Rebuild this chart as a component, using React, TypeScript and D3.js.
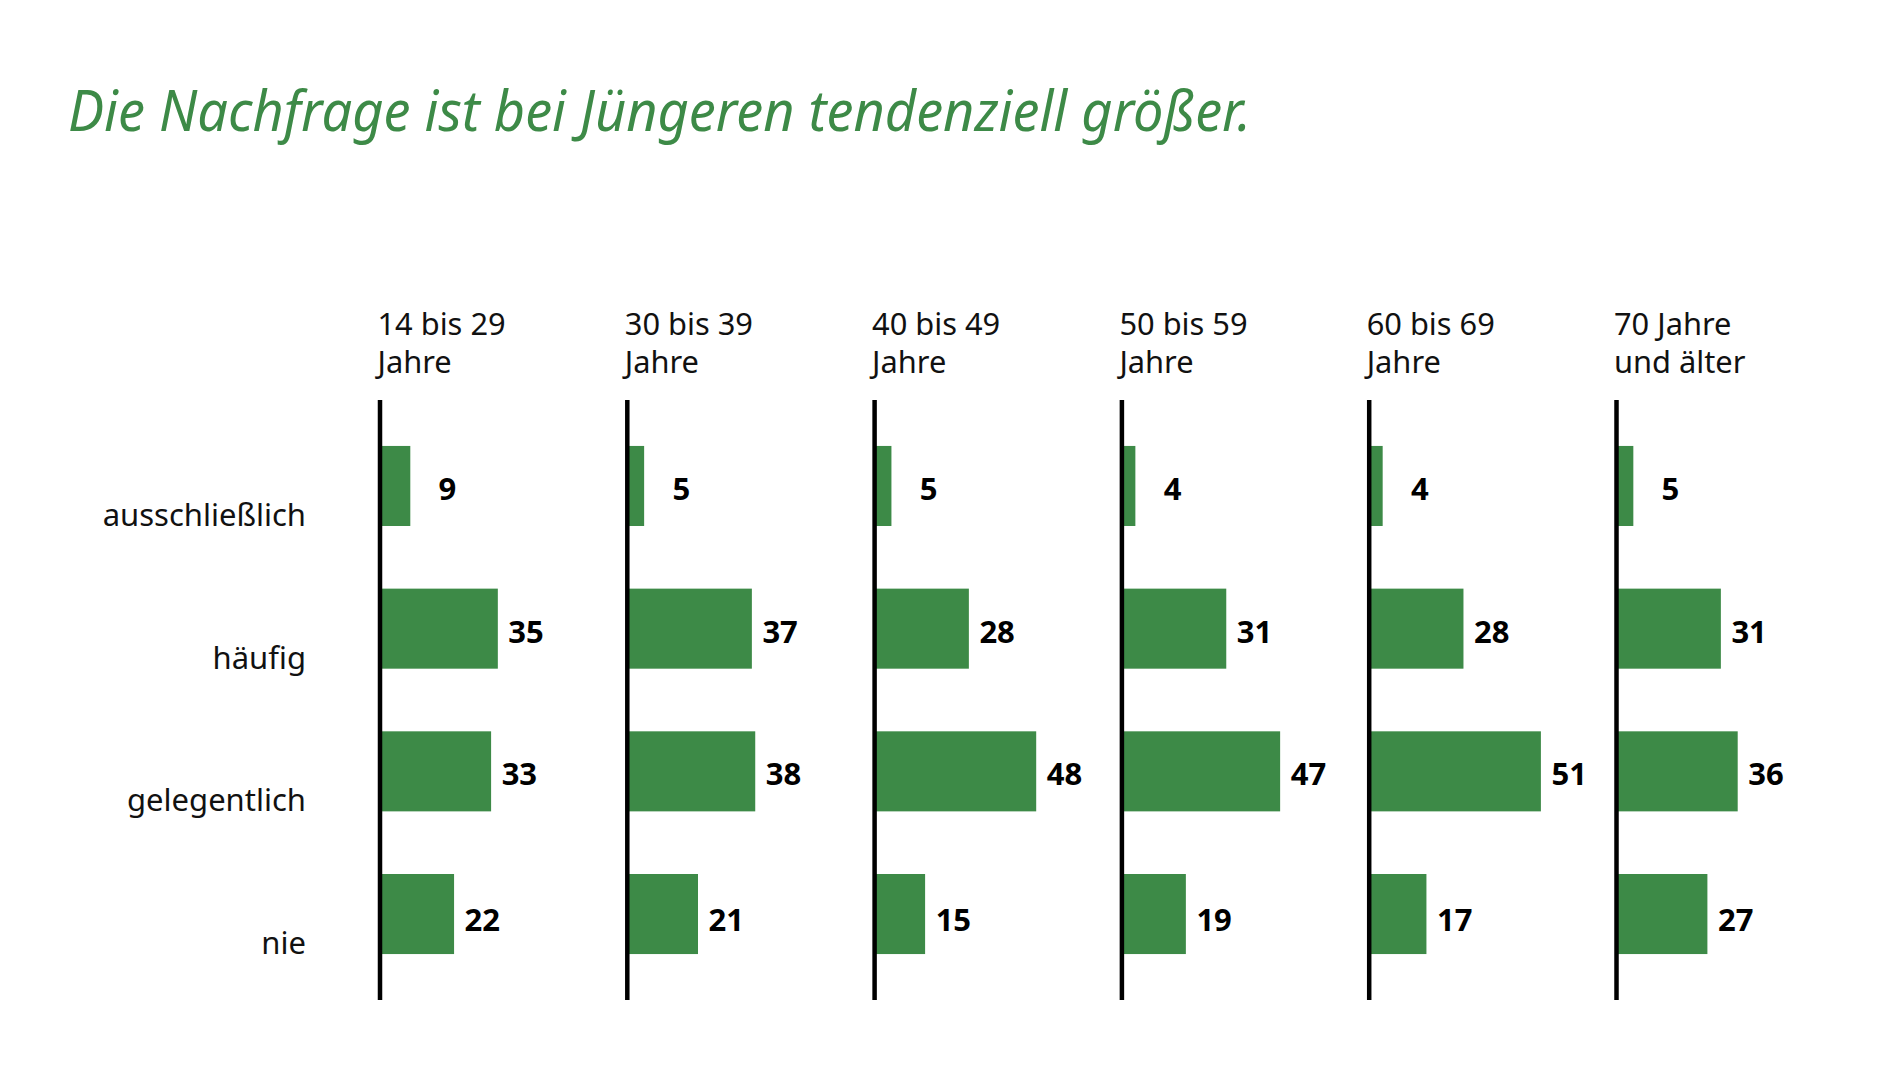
import React from "react";
import * as d3 from "d3";

const title = "Die Nachfrage ist bei Jüngeren tendenziell größer.";
const groups = [
  ["14 bis 29", "Jahre"],
  ["30 bis 39", "Jahre"],
  ["40 bis 49", "Jahre"],
  ["50 bis 59", "Jahre"],
  ["60 bis 69", "Jahre"],
  ["70 Jahre", "und älter"],
];
const categories = ["ausschließlich", "häufig", "gelegentlich", "nie"];
const ausschliesslich = [9, 5, 5, 4, 4, 5];
const haeufig = [35, 37, 28, 31, 28, 31];
const gelegentlich = [33, 38, 48, 47, 51, 36];
const nie = [22, 21, 15, 19, 17, 27];
const series = [ausschliesslich, haeufig, gelegentlich, nie];

const W = 1878;
const H = 1078;
const GREEN = "#3d8a47";
const FONT = "'Noto Sans', 'Open Sans', sans-serif";

export default function App() {
  const groupIdx = groups.map((_, i) => i);
  const px = d3.scalePoint<number>().domain(groupIdx).range([380, 1616.5]);
  const y = d3
    .scaleBand<string>()
    .domain(categories)
    .range([400, 1000])
    .paddingInner(0.439)
    .paddingOuter(0.322);
  const x = d3.scaleLinear().domain([0, 51]).range([0, 171.7]);
  const bw = y.bandwidth();

  return (
    <svg
      width={W}
      height={H}
      viewBox={`0 0 ${W} ${H}`}
      style={{ position: "absolute", left: 0, top: 0, background: "#fff" }}
    >
      <rect x={0} y={0} width={W} height={H} fill="#fff" />
      <text
        x={68}
        y={131}
        fill={GREEN}
        fontFamily={FONT}
        fontStyle="italic"
        fontSize={57}
        textLength={1183}
        lengthAdjust="spacingAndGlyphs"
      >
        {title}
      </text>

      {categories.map((c) => (
        <text
          key={c}
          x={306}
          y={(y(c) as number) + bw}
          textAnchor="end"
          fontFamily={FONT}
          fontSize={31}
          fill="#111"
        >
          {c}
        </text>
      ))}

      {groupIdx.map((gi) => {
        const ax = px(gi) as number;
        return (
          <g key={gi}>
            <text x={ax - 2.5} y={335} fontFamily={FONT} fontSize={30.8} fill="#111">
              {groups[gi][0]}
            </text>
            <text x={ax - 2.5} y={373} fontFamily={FONT} fontSize={30.8} fill="#111">
              {groups[gi][1]}
            </text>
            {categories.map((c, ci) => {
              const v = series[ci][gi];
              const by = y(c) as number;
              return (
                <g key={c}>
                  <rect x={ax} y={by} width={x(v)} height={bw} fill={GREEN} />
                  <text
                    x={ax + x(v) + 46}
                    y={by + bw / 2 + 14 + (ci === 3 ? 3 : 0)}
                    textAnchor="end"
                    fontFamily={FONT}
                    fontWeight="bold"
                    fontSize={31}
                    fill="#000"
                  >
                    {v}
                  </text>
                </g>
              );
            })}
            <line x1={ax} x2={ax} y1={400} y2={1000} stroke="#000" strokeWidth={4.5} />
          </g>
        );
      })}
    </svg>
  );
}
